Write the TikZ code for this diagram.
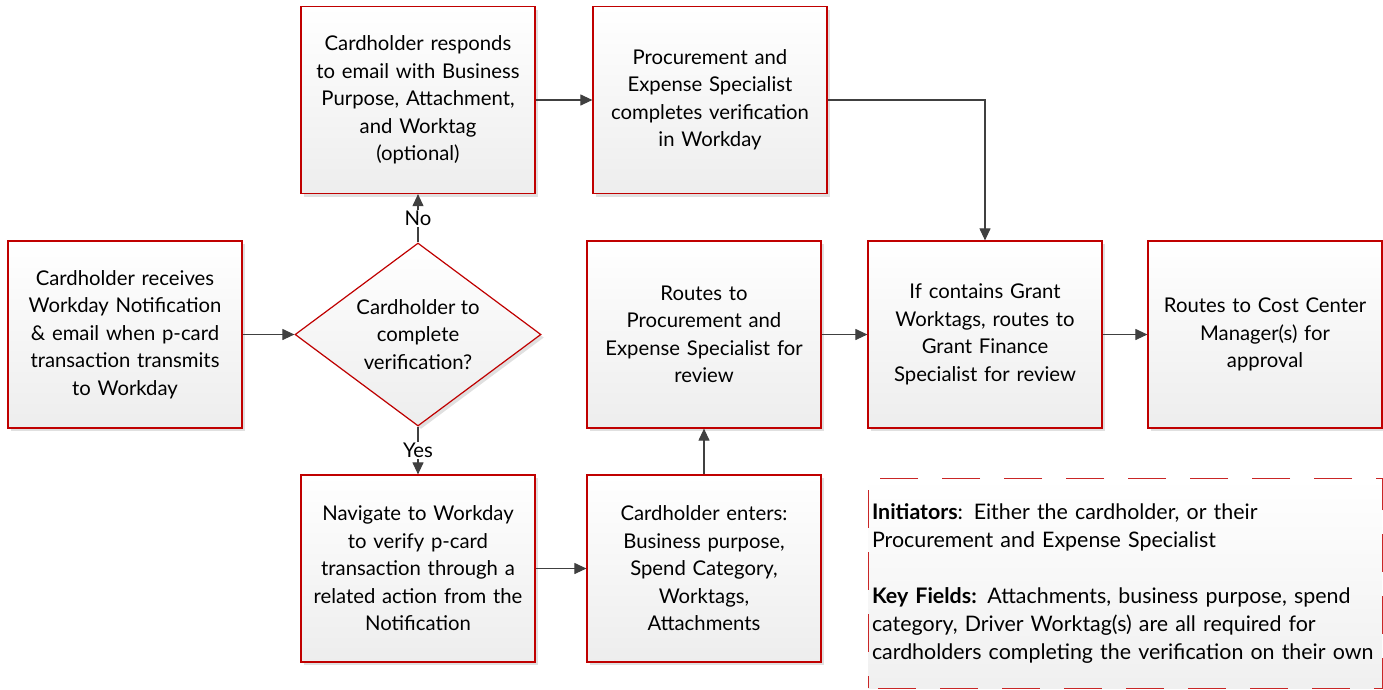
\documentclass[tikz,border=0pt]{standalone}
\usepackage{fontspec}
\setmainfont{Lato}
\usetikzlibrary{arrows.meta,shapes.geometric,shadows}
\definecolor{boxred}{HTML}{C00000}
\definecolor{linegray}{HTML}{404040}
\begin{document}
\begin{tikzpicture}[x=1pt,y=1pt,
  font=\fontsize{20.3}{27.5}\selectfont,
  stepbox/.style={draw=boxred, line width=1.2pt, top color=white, bottom color=black!7,
    minimum width=234pt, minimum height=187pt, inner sep=0pt, text width=226pt, align=center,
    drop shadow={shadow xshift=3pt, shadow yshift=-3pt, fill=black!12, opacity=1}},
  decision/.style={diamond, draw=boxred, line width=1.2pt, top color=white, bottom color=black!7,
    minimum width=246pt, minimum height=183pt, inner sep=0pt,
    drop shadow={shadow xshift=3pt, shadow yshift=-3pt, fill=black!12, opacity=1}},
  notebox/.style={draw=boxred!85, line width=1pt, dash pattern=on 38pt off 24pt, dash phase=-10pt,
    top color=white, bottom color=black!6, minimum width=514pt, minimum height=210pt,
    inner sep=0pt, text width=506pt, align=left, font=\fontsize{21.4}{28}\selectfont},
  conn/.style={draw=linegray, line width=1.1pt, -{Triangle[length=12pt,width=11pt]}},
  lbl/.style={fill=white, inner sep=1pt}
]
\useasboundingbox (0,0) rectangle (1383,-689);

\node[stepbox] (recv) at (125,-334.5) {Cardholder receives\\Workday Notification\\\& email when p-card\\transaction transmits\\to Workday};
\node[decision, label={[align=center]center:Cardholder to\\complete\\verification?}] (dec) at (418,-334.5) {};
\node[stepbox] (resp) at (418,-100) {Cardholder responds\\to email with Business\\Purpose, Attachment,\\and Worktag\\(optional)};
\node[stepbox] (pes) at (710,-100) {Procurement and\\Expense Specialist\\completes verification\\in Workday};
\node[stepbox] (route) at (704,-334.5) {Routes to\\Procurement and\\Expense Specialist for\\review};
\node[stepbox] (grant) at (985,-334.5) {If contains Grant\\Worktags, routes to\\Grant Finance\\Specialist for review};
\node[stepbox] (cost) at (1265,-334.5) {Routes to Cost Center\\Manager(s) for\\approval};
\node[stepbox] (nav) at (418,-568.5) {Navigate to Workday\\to verify p-card\\transaction through a\\related action from the\\Notification};
\node[stepbox] (enter) at (704,-568.5) {Cardholder enters:\\Business purpose,\\Spend Category,\\Worktags,\\Attachments};
\node[notebox] (note) at (1125,-583) {\textbf{Initiators}: Either the cardholder, or their\\Procurement and Expense Specialist\\[28pt]\textbf{Key Fields:} Attachments, business purpose, spend\\category, Driver Worktag(s) are all required for\\cardholders completing the verification on their own};

\draw[conn] (recv.east) -- (dec.west);
\draw[conn] (dec.north) -- node[lbl] {No} (resp.south);
\draw[conn] (dec.south) -- node[lbl] {Yes} (nav.north);
\draw[conn] (resp.east) -- (pes.west);
\draw[conn] (pes.east) -| (grant.north);
\draw[conn] (nav.east) -- (enter.west);
\draw[conn] (enter.north) -- (route.south);
\draw[conn] (route.east) -- (grant.west);
\draw[conn] (grant.east) -- (cost.west);
\end{tikzpicture}
\end{document}
